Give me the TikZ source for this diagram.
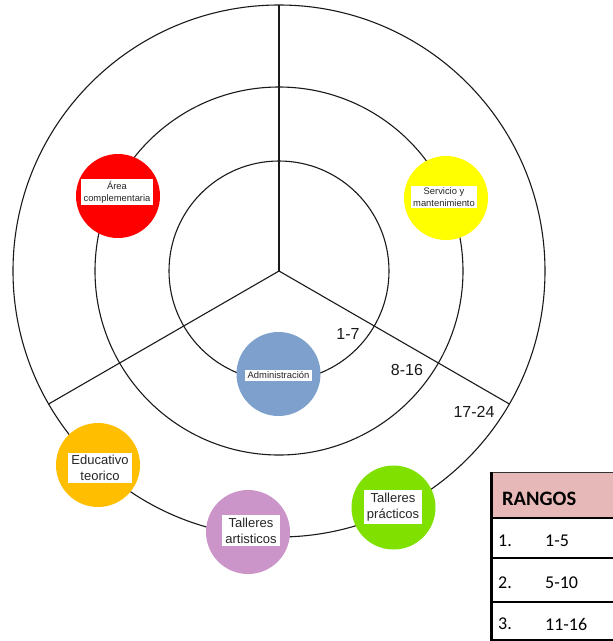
\documentclass[tikz,border=0pt]{standalone}
\usepackage{fontspec}
\setmainfont{Liberation Sans}
\newfontfamily\calfont{Carlito}
\definecolor{ringc}{HTML}{1A1A1A}
\definecolor{cred}{HTML}{FF0000}
\definecolor{cyel}{HTML}{FFFF00}
\definecolor{cblue}{HTML}{7DA0CC}
\definecolor{corange}{HTML}{FFBF00}
\definecolor{cpurple}{HTML}{CC95CA}
\definecolor{cgreen}{HTML}{80E000}
\definecolor{cpink}{HTML}{E6B8B7}
\tikzset{
  ring/.style={draw=ringc, line width=1.1pt},
  spoke/.style={draw=ringc, line width=1.1pt},
  blob/.style={circle, inner sep=0pt, minimum size=84pt, draw=none},
  lblsmall/.style={fill=white, inner xsep=2.5pt, inner ysep=2pt, align=center, text=black!85, font=\fontsize{9.4}{11.8}\selectfont},
  lblbig/.style={fill=white, inner xsep=3pt, inner ysep=2.5pt, align=center, text=black!85, font=\fontsize{13}{16}\selectfont},
  rangenum/.style={inner sep=0pt, text=black!90, font=\fontsize{16}{19}\selectfont},
  tabhead/.style={inner sep=0pt, anchor=west, font=\calfont\bfseries\fontsize{20.5}{24}\selectfont},
  tabcell/.style={inner sep=0pt, anchor=west, font=\calfont\fontsize{18}{22}\selectfont},
  tabline/.style={draw=black, line width=2pt}
}
\begin{document}
\begin{tikzpicture}[x=1pt,y=-1pt]
\useasboundingbox (0,0) rectangle (613,641);
\fill[white] (0,0) rectangle (613,641);
\coordinate (o) at (279,271);
% rings
\draw[ring] (o) circle[radius=266pt];
\draw[ring] (o) circle[radius=184pt];
\draw[ring] (o) circle[radius=110pt];
% spokes
\coordinate (sup) at (279,5);
\coordinate (sright) at (509.4,404);
\coordinate (sleft) at (48.6,404);
\draw[spoke] (o) -- (sup);
\draw[spoke] (o) -- (sright);
\draw[spoke] (o) -- (sleft);
% range numbers
\node[rangenum] (r1) at (348,334) {1-7};
\node[rangenum] (r2) at (407,370) {8-16};
\node[rangenum] (r3) at (474,412) {17-24};
% colored circles
\node[blob, fill=cred] (area) at (118,196) {};
\node[lblsmall] (areal) at (117,192) {Área\\complementaria};
\node[blob, fill=cyel] (serv) at (446,198) {};
\node[lblsmall] (servl) at (444,197) {Servicio y\\mantenimiento};
\node[blob, fill=cblue] (adm) at (278.5,374) {};
\node[lblsmall] (adml) at (278.5,375.5) {Administración};
\node[blob, fill=corange] (edu) at (98,465) {};
\node[lblbig] (edul) at (100,468) {Educativo\\teorico};
\node[blob, fill=cpurple] (art) at (248,532) {};
\node[lblbig] (artl) at (251,530.5) {Talleres\\artisticos};
\node[blob, fill=cgreen] (prac) at (393.5,507.5) {};
\node[lblbig] (pracl) at (393,507) {Talleres\\prácticos};
% table
\fill[cpink] (491,472.5) rectangle (613,518);
\draw[draw=black!80, line width=1pt] (491,472.5) -- (613,472.5);
\draw[tabline] (491,518) -- (613,518);
\draw[tabline] (491,558) -- (613,558);
\draw[tabline] (491,602) -- (613,602);
\draw[tabline] (491,640) -- (613,640);
\draw[draw=black, line width=3pt] (491.5,471.5) -- (491.5,641);
\node[tabhead] (th) at (502,499) {RANGOS};
\node[tabcell] (n1) at (498,541) {1.};
\node[tabcell] (v1) at (545,541) {1-5};
\node[tabcell] (n2) at (498,583) {2.};
\node[tabcell] (v2) at (545,583) {5-10};
\node[tabcell] (n3) at (498,624) {3.};
\node[tabcell] (v3) at (545,624) {11-16};
\end{tikzpicture}
\end{document}
